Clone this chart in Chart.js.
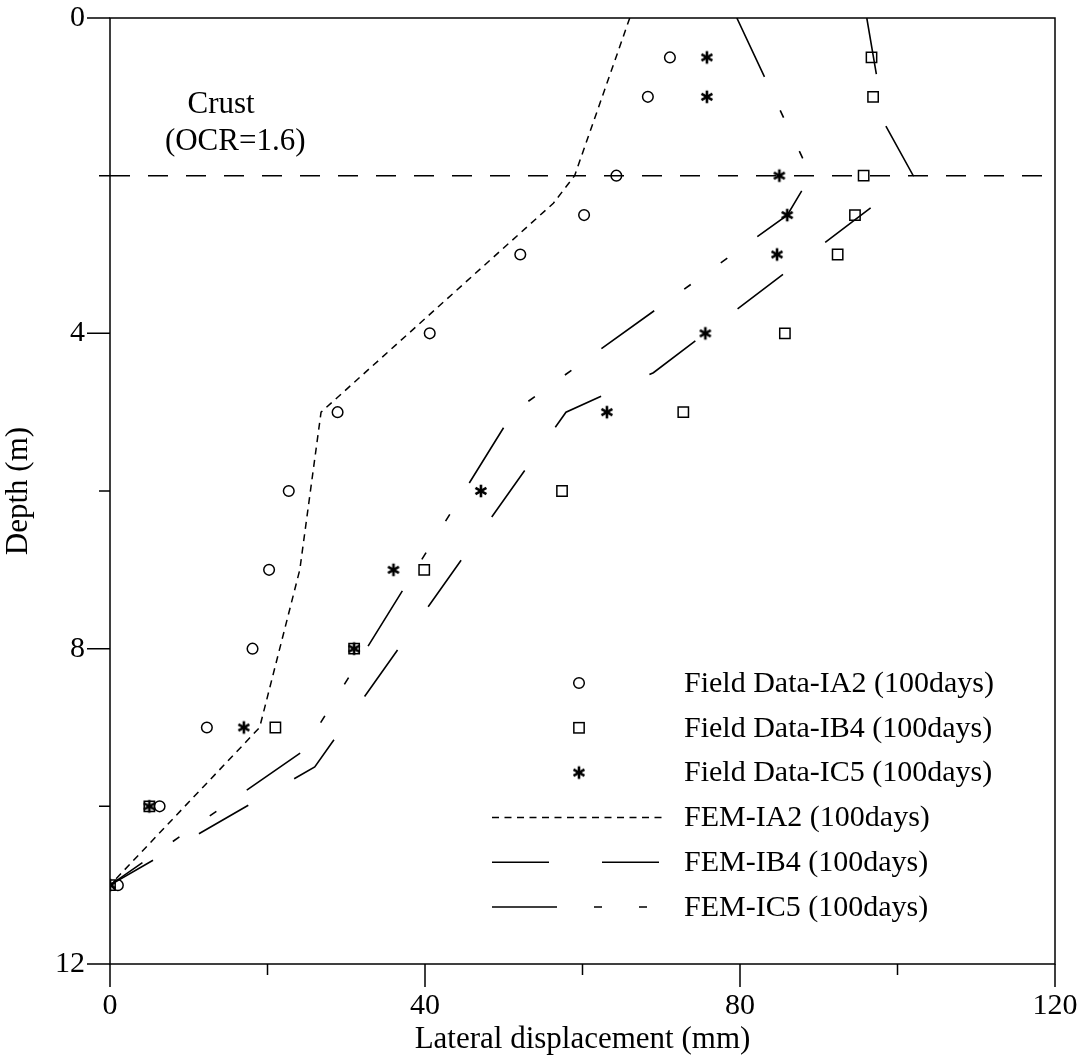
<!DOCTYPE html>
<html>
<head>
<meta charset="utf-8">
<script src="https://cdn.jsdelivr.net/npm/chart.js@4.4.0/dist/chart.umd.min.js"></script>
<style>
  html, body { margin: 0; padding: 0; background: #fff; }
  #wrap { width: 1091px; height: 1063px; }
</style>
</head>
<body>
<div id="wrap"><canvas id="depthChart"></canvas></div>
<script>
// field readings (depth in m, lateral displacement in mm)
const fieldDepths = [0.5, 1, 2, 2.5, 3, 4, 5, 6, 7, 8, 9, 10, 11];
const fieldIA2 = [71.1, 68.3, 64.3, 60.2, 52.1, 40.6, 28.9, 22.7, 20.2, 18.1, 12.3, 6.3, 1.0];
const fieldIB4 = [96.7, 96.9, 95.7, 94.6, 92.4, 85.7, 72.8, 57.4, 39.9, 31.0, 21.0, 5.0, 0];
const fieldIC5 = [75.8, 75.8, 85.0, 86.0, 84.7, 75.6, 63.1, 47.1, 36.0, 31.0, 17.0, 5.0, 0];

// FEM profiles
const femIA2Depths = [0, 2.0, 2.35, 5.0, 7.0, 9.0, 11];
const femIA2 = [66.0, 59.0, 56.3, 26.8, 24.1, 19.0, 0];
const femIB4Depths = [0, 1.35, 2.0, 4.5, 5.0, 9.5, 11];
const femIB4 = [96.1, 98.4, 102.0, 69.0, 57.9, 26.0, 0];
const femIC5Depths = [0, 2.0, 2.5, 5.0, 9.3, 11];
const femIC5 = [79.6, 89.0, 86.0, 51.2, 24.5, 0];

const crustDepth = 2;
const crustSpan = [0, 120];
const xTicks = [0, 20, 40, 60, 80, 100, 120];
const yTicks = [0, 2, 4, 6, 8, 10, 12];
const xLabelled = [0, 40, 80, 120];
const yLabelled = [0, 4, 8, 12];

const serif = "'Liberation Serif', 'DejaVu Serif', serif";

const toPoints = (xs, ys) => xs.map((x, i) => ({ x: x, y: ys[i] }));

// six arm asterisk for the IC5 field data
function makeStar() {
  const c = document.createElement("canvas");
  c.width = 18;
  c.height = 18;
  const g = c.getContext("2d");
  g.strokeStyle = "#000";
  g.lineWidth = 2.6;
  g.translate(9, 9);
  for (let i = 0; i < 3; i++) {
    const a = Math.PI / 2 + (i * Math.PI) / 3;
    g.beginPath();
    g.moveTo(Math.cos(a) * 6.3, Math.sin(a) * 6.3);
    g.lineTo(-Math.cos(a) * 6.3, -Math.sin(a) * 6.3);
    g.stroke();
  }
  return c;
}
const starImg = makeStar();

const dashIA2 = [7, 5.5];
const dashIB4 = [57, 53];
const dashIC5 = [65, 37, 8, 37, 8, 37];

// axis frame, ticks, crust note and legend
const decorPlugin = {
  id: "decor",
  afterDraw(chart) {
    const ctx = chart.ctx;
    const xs = chart.scales.x;
    const ys = chart.scales.y;
    const a = chart.chartArea;
    ctx.save();
    ctx.strokeStyle = "#000";
    ctx.lineWidth = 1.5;
    ctx.strokeRect(a.left, a.top, a.right - a.left, a.bottom - a.top);

    ctx.beginPath();
    xTicks.forEach((v) => {
      const px = xs.getPixelForValue(v);
      const len = xLabelled.includes(v) ? 23 : 11;
      ctx.moveTo(px, a.bottom);
      ctx.lineTo(px, a.bottom + len);
    });
    yTicks.forEach((v) => {
      const py = ys.getPixelForValue(v);
      const len = yLabelled.includes(v) ? 23 : 11;
      ctx.moveTo(a.left, py);
      ctx.lineTo(a.left - len, py);
    });
    ctx.stroke();

    // crust label
    ctx.fillStyle = "#000";
    ctx.font = "31px " + serif;
    ctx.textAlign = "center";
    ctx.textBaseline = "alphabetic";
    ctx.fillText("Crust", xs.getPixelForValue(14.1), ys.getPixelForValue(1.2));
    ctx.fillText("(OCR=1.6)", xs.getPixelForValue(15.9), ys.getPixelForValue(1.67));

    // legend
    const rowY0 = 683;
    const rowGap = 44.8;
    const sampleLeft = 492;
    const sampleRight = 665;
    const textX = 684;
    ctx.font = "30px " + serif;
    ctx.textAlign = "left";
    ctx.textBaseline = "middle";
    let row = 0;
    chart.data.datasets.forEach((ds) => {
      if (!ds.label) return;
      const y = rowY0 + row * rowGap;
      const mid = (sampleLeft + sampleRight) / 2 + 0.5;
      if (ds.showLine) {
        ctx.save();
        ctx.lineWidth = ds.borderWidth;
        ctx.setLineDash(ds.borderDash);
        ctx.beginPath();
        ctx.moveTo(sampleLeft, y);
        ctx.lineTo(sampleRight, y);
        ctx.stroke();
        ctx.restore();
      } else if (ds.pointStyle === "circle") {
        ctx.lineWidth = 1.5;
        ctx.beginPath();
        ctx.arc(mid, y, ds.pointRadius, 0, Math.PI * 2);
        ctx.stroke();
      } else if (ds.pointStyle === "rect") {
        const s = ds.pointRadius * Math.SQRT1_2;
        ctx.lineWidth = 1.5;
        ctx.strokeRect(mid - s, y - s, 2 * s, 2 * s);
      } else {
        ctx.drawImage(starImg, mid - 9, y - 9);
      }
      ctx.fillText(ds.label, textX, y + 1);
      row++;
    });
    ctx.restore();
  },
};

new Chart(document.getElementById("depthChart"), {
  type: "scatter",
  data: {
    datasets: [
      {
        label: "",
        data: toPoints(crustSpan, [crustDepth, crustDepth]),
        showLine: true,
        borderColor: "#000",
        borderWidth: 1.5,
        borderDash: [20, 18],
        pointRadius: 0,
      },
      {
        label: "Field Data-IA2 (100days)",
        data: toPoints(fieldIA2, fieldDepths),
        showLine: false,
        pointStyle: "circle",
        pointRadius: 5.3,
        borderColor: "#000",
        borderWidth: 1.5,
        backgroundColor: "rgba(0,0,0,0)",
      },
      {
        label: "Field Data-IB4 (100days)",
        data: toPoints(fieldIB4, fieldDepths),
        showLine: false,
        pointStyle: "rect",
        pointRadius: 7.3,
        borderColor: "#000",
        borderWidth: 1.5,
        backgroundColor: "rgba(0,0,0,0)",
      },
      {
        label: "Field Data-IC5 (100days)",
        data: toPoints(fieldIC5, fieldDepths),
        showLine: false,
        pointStyle: starImg,
        pointRadius: 6,
        borderColor: "#000",
      },
      {
        label: "FEM-IA2 (100days)",
        data: toPoints(femIA2, femIA2Depths),
        showLine: true,
        borderColor: "#000",
        borderWidth: 1.5,
        borderDash: dashIA2,
        pointRadius: 0,
      },
      {
        label: "FEM-IB4 (100days)",
        data: toPoints(femIB4, femIB4Depths),
        showLine: true,
        borderColor: "#000",
        borderWidth: 1.6,
        borderDash: dashIB4,
        pointRadius: 0,
      },
      {
        label: "FEM-IC5 (100days)",
        data: toPoints(femIC5, femIC5Depths),
        showLine: true,
        borderColor: "#000",
        borderWidth: 1.6,
        borderDash: dashIC5,
        pointRadius: 0,
      },
    ],
  },
  options: {
    responsive: true,
    maintainAspectRatio: false,
    animation: false,
    layout: { padding: { top: 18, right: 36, left: 0, bottom: 0 } },
    plugins: {
      legend: { display: false },
      tooltip: { enabled: false },
    },
    scales: {
      x: {
        type: "linear",
        min: 0,
        max: 120,
        grid: { display: false, drawTicks: false },
        border: { display: false },
        afterFit: (scale) => {
          scale.height = 99;
          scale.paddingLeft = 0;
          scale.paddingRight = 0;
        },
        ticks: {
          stepSize: 20,
          autoSkip: false,
          maxRotation: 0,
          padding: 24,
          color: "#000",
          font: { family: serif, size: 30 },
          callback: (v) => (xLabelled.includes(v) ? String(v) : ""),
        },
        title: {
          display: true,
          text: "Lateral displacement (mm)",
          color: "#000",
          font: { family: serif, size: 31 },
          padding: { top: 0, bottom: 5 },
        },
      },
      y: {
        type: "linear",
        min: 0,
        max: 12,
        reverse: true,
        grid: { display: false, drawTicks: false },
        border: { display: false },
        afterFit: (scale) => {
          scale.width = 110;
          scale.paddingTop = 0;
          scale.paddingBottom = 0;
        },
        ticks: {
          stepSize: 2,
          autoSkip: false,
          padding: 25,
          color: "#000",
          font: { family: serif, size: 30 },
          callback: (v) => (yLabelled.includes(v) ? String(v) : ""),
        },
        title: {
          display: true,
          text: "Depth (m)",
          color: "#000",
          font: { family: serif, size: 31 },
          padding: { top: 0, bottom: 4 },
        },
      },
    },
  },
  plugins: [decorPlugin],
});
</script>
</body>
</html>
